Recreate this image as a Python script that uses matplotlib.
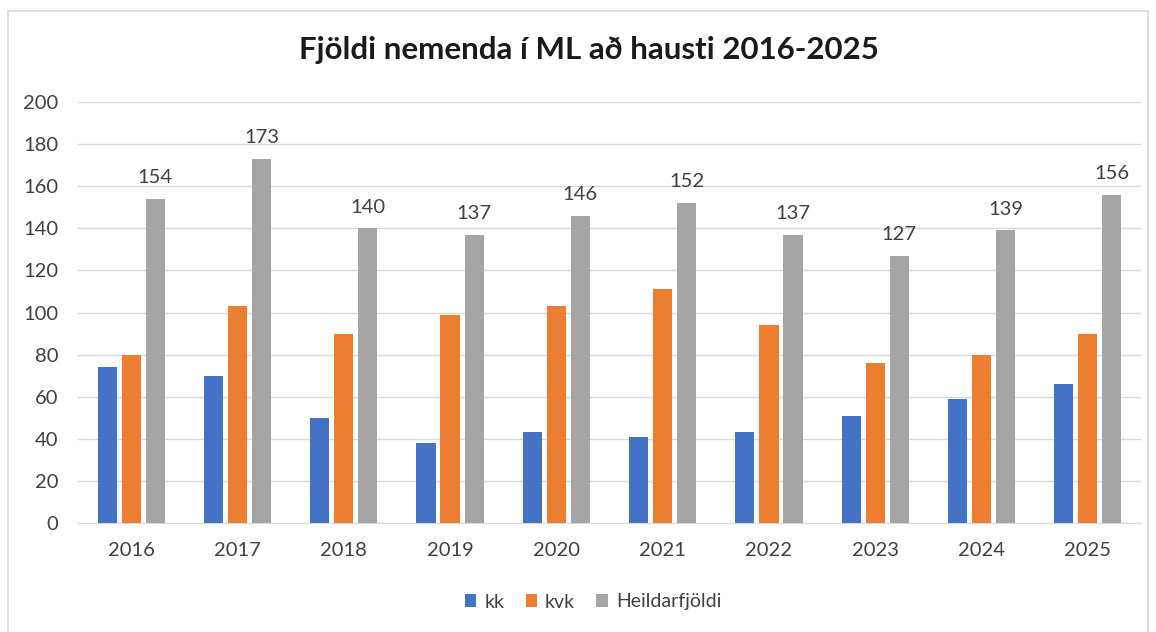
import matplotlib
matplotlib.use("Agg")
import matplotlib.pyplot as plt
import numpy as np
from matplotlib.patches import Rectangle

years = ["2016", "2017", "2018", "2019", "2020", "2021", "2022", "2023", "2024", "2025"]
kk = [74, 70, 50, 38, 43, 41, 43, 51, 59, 66]
kvk = [80, 103, 90, 99, 103, 111, 94, 76, 80, 90]
heild = [154, 173, 140, 137, 146, 152, 137, 127, 139, 156]
series_names = ["kk", "kvk", "Heildarfjöldi"]
colors = ["#4472C4", "#ED7D31", "#A5A5A5"]
title = "Fjöldi nemenda í ML að hausti 2016-2025"

plt.rcParams['font.family'] = ['Lato', 'DejaVu Sans']

W, H = 1156, 632
fig = plt.figure(figsize=(W / 100, H / 100), dpi=100)
fig.patch.set_facecolor("white")
fig.add_artist(Rectangle((8 / W, -0.01), (1148 - 8) / W, 1 - 11 / H + 0.01,
                         transform=fig.transFigure, fill=False,
                         edgecolor="#d9d9d9", linewidth=1.2))

ax = fig.add_axes([78 / W, 1 - 523 / H, (1141 - 78) / W, (523 - 102) / H])
x = np.arange(len(years))
bw = 0.18
off = 0.226
for i, (vals, c, n) in enumerate(zip([kk, kvk, heild], colors, series_names)):
    bars = ax.bar(x + (i - 1) * off, vals, width=bw, color=c, label=n, zorder=3)
    if i == 2:
        for b, v in zip(bars, vals):
            ax.text(b.get_x() + b.get_width() / 2, v + 6, str(v), ha="center", va="bottom",
                    fontsize=14.5, color="#404040")

ax.set_xlim(-0.5, len(years) - 0.5)
ax.set_ylim(0, 200)
ax.set_yticks(range(0, 201, 20))
ax.set_xticks(x)
ax.set_xticklabels(years)
ax.grid(axis="y", color="#d9d9d9", linewidth=1, zorder=0)
for s in ["top", "right", "left"]:
    ax.spines[s].set_visible(False)
ax.spines["bottom"].set_color("#d9d9d9")
ax.tick_params(axis="both", length=0, labelsize=14.5, colors="#404040")
ax.tick_params(axis="x", pad=14)
ax.tick_params(axis="y", pad=14)

fig.text(589 / W, 1 - 50 / H, title, ha="center", va="center", fontsize=22.5,
         fontweight="bold", color="#1a1a1a")

handles, labels = ax.get_legend_handles_labels()
fig.legend(handles, labels, loc="center", bbox_to_anchor=(593 / W, 1 - 602 / H), ncol=3,
           frameon=False, fontsize=14, handlelength=0.6, handleheight=0.6,
           handletextpad=0.4, columnspacing=1.1, labelcolor="#404040")

fig.savefig("out.png", dpi=100, facecolor="white")
